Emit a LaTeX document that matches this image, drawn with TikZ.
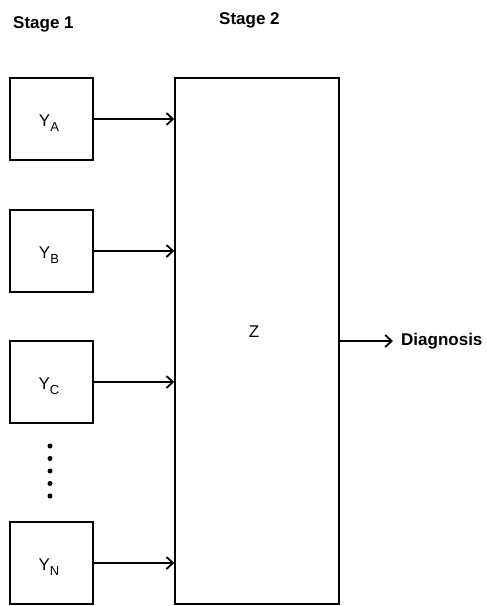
\documentclass[tikz,border=0pt]{standalone}
\usepackage{fontspec}
\setmainfont{Liberation Sans}
\usetikzlibrary{arrows.meta}
\tikzset{
  ybox/.style={draw, line width=1.5pt, minimum width=83pt, minimum height=82pt, inner sep=0pt},
  zbox/.style={draw, line width=1.5pt, minimum width=164pt, minimum height=526pt, inner sep=0pt},
  conn/.style={line width=1.5pt, -{Straight Barb[length=6.5pt,width=12pt,line width=1.8pt]}},
  stagelab/.style={font=\fontsize{17}{17}\selectfont\bfseries, inner sep=0pt},
  ylab/.style={font=\fontsize{17}{17}\selectfont, inner sep=0pt},
  dot/.style={circle, fill, inner sep=0pt, minimum size=5pt}
}
\newcommand{\ysub}[1]{Y\raisebox{-0.28em}{\fontsize{13}{13}\selectfont #1}}
\begin{document}
\begin{tikzpicture}[x=1pt,y=-1pt]
\useasboundingbox (0,0) rectangle (487,606);
\node[stagelab, anchor=west] (s1) at (13,24) {Stage 1};
\node[stagelab, anchor=west] (s2) at (219,20) {Stage 2};
\node[zbox] (Z) at (257,341) {};
\node[ylab] (zl) at (254,332) {Z};
\node[ybox] (ya) at (51.5,119) {};
\node[ybox] (yb) at (51.5,251) {};
\node[ybox] (yc) at (51.5,382) {};
\node[ybox] (yn) at (51.5,563) {};
\node[ylab] (la) at (49,123) {\ysub{A}};
\node[ylab] (lb) at (49,255) {\ysub{B}};
\node[ylab] (lc) at (49,386) {\ysub{C}};
\node[ylab] (ln) at (49,567) {\ysub{N}};
\foreach \i/\yy in {1/446,2/458.5,3/471,4/483.5,5/496}
  \node[dot] (d\i) at (50,\yy) {};
\node[stagelab, anchor=west] (diag) at (401,341) {Diagnosis};
\draw[conn] (ya.east) -- (ya.east -| Z.west);
\draw[conn] (yb.east) -- (yb.east -| Z.west);
\draw[conn] (yc.east) -- (yc.east -| Z.west);
\draw[conn] (yn.east) -- (yn.east -| Z.west);
\draw[conn, shorten >=8pt] (diag.west -| Z.east) -- (diag.west);
\end{tikzpicture}
\end{document}
